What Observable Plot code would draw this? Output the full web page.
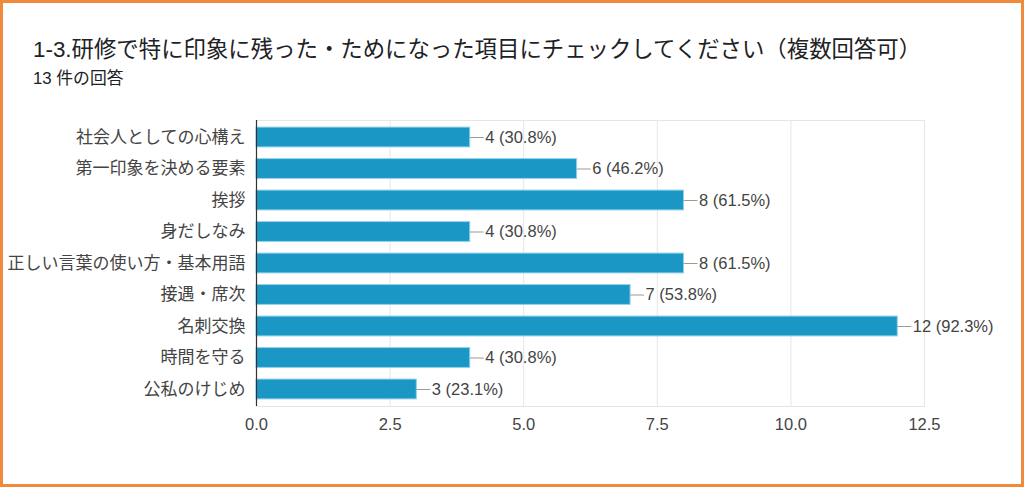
<!DOCTYPE html>
<html><head><meta charset="utf-8">
<script src="https://cdn.jsdelivr.net/npm/d3@7"></script>
<script src="https://cdn.jsdelivr.net/npm/@observablehq/plot@0.6"></script>
<style>
html,body{margin:0;padding:0;background:#fff;}
#wrap{box-sizing:border-box;width:1024px;height:487px;border:3px solid #f08a3c;position:relative;overflow:hidden;font-family:"Liberation Sans","Noto Sans CJK JP",sans-serif;}
#title{position:absolute;left:30px;top:33px;font-size:22.4px;line-height:28px;color:#202124;white-space:nowrap;}
#sub{position:absolute;left:30px;top:65px;font-size:16.8px;line-height:22px;color:#202124;white-space:nowrap;}
#chart{position:absolute;left:0;top:87px;}
</style></head>
<body><div id="wrap"><div id="title"></div><div id="sub"></div><div id="chart"></div></div>
<script>
const titleText = "1-3.研修で特に印象に残った・ためになった項目にチェックしてください（複数回答可）";
const subtitleText = "13 件の回答";
const categories = ["社会人としての心構え","第一印象を決める要素","挨拶","身だしなみ","正しい言葉の使い方・基本用語","接遇・席次","名刺交換","時間を守る","公私のけじめ"];
const counts = [4, 6, 8, 4, 8, 7, 12, 4, 3];
const percents = ["30.8", "46.2", "61.5", "30.8", "61.5", "53.8", "92.3", "30.8", "23.1"];
const xTicks = [0, 2.5, 5, 7.5, 10, 12.5];

document.getElementById("title").textContent = titleText;
document.getElementById("sub").textContent = subtitleText;

const data = categories.map((c, i) => ({label: c, value: counts[i], text: `${counts[i]} (${percents[i]}%)`}));

const leader = {draw(ctx, l) { ctx.moveTo(0, 0); ctx.lineTo(0, -l); }};

const chart = Plot.plot({
  width: 1018, height: 393,
  marginLeft: 253, marginRight: 97, marginTop: 30, marginBottom: 77,
  style: {fontFamily: '"Liberation Sans","Noto Sans CJK JP",sans-serif', fontSize: "16.5px", color: "#444", background: "#fff"},
  x: {domain: [0, 12.5], ticks: xTicks, tickFormat: d3.format(".1f"), label: null, tickSize: 0, tickPadding: 12},
  y: {domain: categories, label: null, paddingInner: 0.37, paddingOuter: 0.225, round: false, tickSize: 0, tickPadding: 11},
  marks: [
    Plot.frame({stroke: "#e6e6e6"}),
    Plot.ruleX(xTicks.slice(1), {stroke: "#e6e6e6"}),
    Plot.barX(data, {x: "value", y: "label", fill: "#1b97c6", stroke: "#8fd2ea", strokeWidth: 1}),
    Plot.vector(data, {x: "value", y: "label", length: 13, rotate: 90, anchor: "start", shape: leader, stroke: "#9a9a9a", strokeWidth: 1.2}),
    Plot.text(data, {x: "value", y: "label", text: "text", dx: 15, textAnchor: "start", fill: "#444"}),
    Plot.axisY({tickSize: 0, tickPadding: 11, fontSize: 17, fill: "#444"}),
    Plot.ruleX([0], {stroke: "#333", strokeWidth: 1.2})
  ]
});
document.getElementById("chart").appendChild(chart);
</script></body></html>
